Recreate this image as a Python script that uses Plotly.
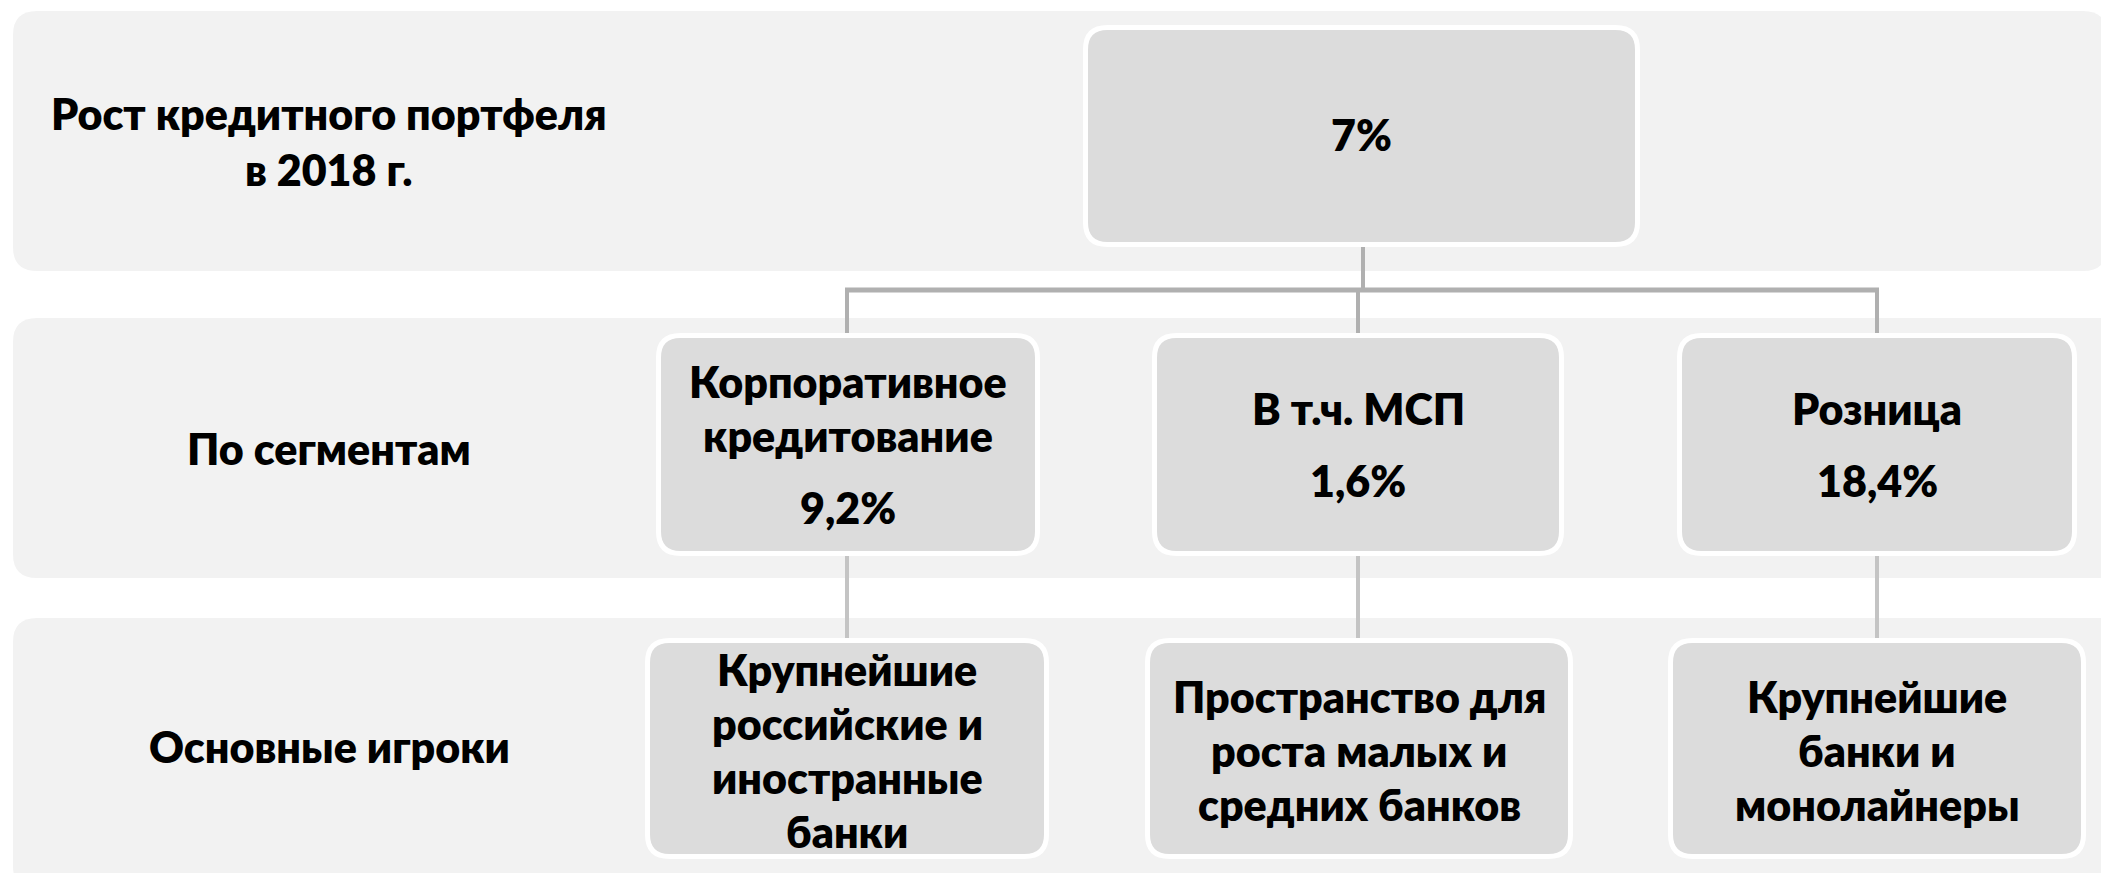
import plotly.graph_objects as go

# ---- content ----
row_labels = ["Рост кредитного портфеля<br>в 2018 г.", "По сегментам", "Основные игроки"]
total_growth = "7%"
segment_names = [["Корпоративное", "кредитование"], ["В т.ч. МСП"], ["Розница"]]
segment_growth = ["9,2%", "1,6%", "18,4%"]
player_lines = [
    ["Крупнейшие", "российские и", "иностранные", "банки"],
    ["Пространство для", "роста малых и", "средних банков"],
    ["Крупнейшие", "банки и", "монолайнеры"],
]

# ---- layout geometry (page pixels) ----
W, H = 2109, 873
OFF = 8  # default page body margin
BAND_FILL = "#f2f2f2"
BOX_FILL = "#dcdcdc"
LINE_TOP = "#b0b0b0"
LINE_LOW = "#c4c4c4"
FONT = "Lato"
FS = 43
WEIGHT = 800
LS = 54

bands = [(13, 2107, 11, 271), (13, 2135, 318, 578), (13, 2135, 618, 890)]
top_box = (1083, 1640, 25, 247)
seg_boxes = [(656, 1040), (1152, 1564), (1677, 2077)]
seg_y = (333, 556)
play_boxes = [(645, 1049), (1145, 1573), (1668, 2086)]
play_y = (638, 859)
conn_x = [847, 1358, 1877]


def rrect(x0, x1, y0, y1, r):
    return (f"M {x0+r},{y0} L {x1-r},{y0} Q {x1},{y0} {x1},{y0+r} "
            f"L {x1},{y1-r} Q {x1},{y1} {x1-r},{y1} L {x0+r},{y1} "
            f"Q {x0},{y1} {x0},{y1-r} L {x0},{y0+r} Q {x0},{y0} {x0+r},{y0} Z")


shapes = []
annotations = []

for (x0, x1, y0, y1) in bands:
    shapes.append(dict(type="path", path=rrect(x0, x1, y0, y1, 24),
                       fillcolor=BAND_FILL, line=dict(width=0), layer="below"))

# connectors
shapes.append(dict(type="line", x0=1363, x1=1363, y0=top_box[3], y1=290,
                   line=dict(color=LINE_TOP, width=4)))
shapes.append(dict(type="line", x0=conn_x[0] - 2, x1=conn_x[2] + 2, y0=290, y1=290,
                   line=dict(color=LINE_TOP, width=5)))
for cx in conn_x:
    shapes.append(dict(type="line", x0=cx, x1=cx, y0=290, y1=seg_y[0],
                       line=dict(color=LINE_TOP, width=4)))
    shapes.append(dict(type="line", x0=cx, x1=cx, y0=seg_y[1], y1=play_y[0],
                       line=dict(color=LINE_LOW, width=4)))


def box(x0, x1, y0, y1):
    b = 2.5
    shapes.append(dict(type="path", path=rrect(x0 + b, x1 - b, y0 + b, y1 - b, 22),
                       fillcolor=BOX_FILL, line=dict(color="white", width=5)))


def txt(x, y, s, size=FS):
    annotations.append(dict(x=x, y=y, xref="x", yref="y", text=s, showarrow=False,
                            xanchor="center", yanchor="middle",
                            font=dict(family=FONT, size=size, color="black", weight=WEIGHT)))


# row labels
label_y = [141, 448, 746]
for s, y in zip(row_labels, label_y):
    txt(329, y, s)

# top box
box(*top_box)
txt((top_box[0] + top_box[1]) / 2, 134, total_growth)

# segment boxes
GAP = 72
for (x0, x1), names, val in zip(seg_boxes, segment_names, segment_growth):
    box(x0, x1, *seg_y)
    cx = (x0 + x1) / 2
    h = (len(names) - 1) * LS + GAP
    yc = (seg_y[0] + seg_y[1]) / 2
    ys = yc - h / 2
    for i, n in enumerate(names):
        txt(cx, ys + i * LS, n)
    txt(cx, ys + (len(names) - 1) * LS + GAP, val)

# player boxes
for (x0, x1), lines in zip(play_boxes, player_lines):
    box(x0, x1, *play_y)
    cx = (x0 + x1) / 2
    yc = (play_y[0] + play_y[1]) / 2 + 2
    ys = yc - (len(lines) - 1) * LS / 2
    for i, n in enumerate(lines):
        txt(cx, ys + i * LS, n)

fig = go.Figure()
fig.update_layout(
    width=W - OFF, height=H - OFF,
    margin=dict(l=0, r=0, t=0, b=0),
    paper_bgcolor="white", plot_bgcolor="white",
    xaxis=dict(range=[OFF, W], visible=False, fixedrange=True),
    yaxis=dict(range=[H, OFF], visible=False, fixedrange=True),
    shapes=shapes, annotations=annotations,
    showlegend=False,
)
fig.write_html("out.html", config={"displayModeBar": False})
